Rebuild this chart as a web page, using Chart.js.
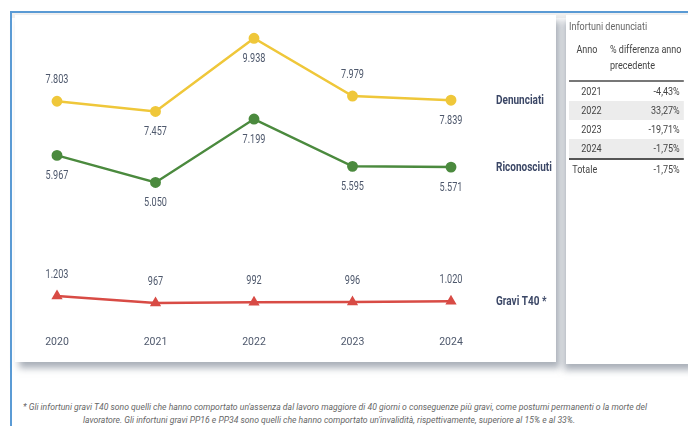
<!DOCTYPE html>
<html>
<head>
<meta charset="utf-8">
<script src="https://cdn.jsdelivr.net/npm/chart.js@4"></script>
<style>
  body { margin: 0; width: 688px; height: 426px; background: #fff; position: relative; overflow: hidden;
         font-family: 'Roboto', sans-serif; }
  #blueTop { position: absolute; left: 10px; top: 11px; width: 678px; height: 2px; background: #5b9bd5; }
  #blueLeft { position: absolute; left: 10px; top: 11px; width: 2px; height: 415px; background: #5b9bd5; }
  #band { position: absolute; left: 12px; top: 13px; width: 676px; height: 5px; background: #f1f1f1; }
  #card { position: absolute; left: 15px; top: 15px; width: 541px; height: 347px; background: #fff;
          box-shadow: 4px 6px 7px rgba(140,148,160,0.75); }
  #side { position: absolute; left: 566px; top: 15px; width: 130px; height: 349px; background: #fff;
          box-shadow: -2px 6px 7px rgba(140,148,160,0.75); color: #444; }
  #sideIn { position: absolute; left: 3px; top: 0; width: 140px; transform: scaleX(0.82); transform-origin: 0 0;
            font-size: 11px; }
  #chart { position: absolute; left: 15px; top: 15px; }
  .ttl { position: absolute; left: 0; top: 5px; color: #666; line-height: 14px; }
  table { position: absolute; left: 0; top: 27px; width: 140px; border-collapse: collapse; }
  th { font-weight: normal; text-align: left; vertical-align: top; padding: 0 0 6px 0; line-height: 16px; color: #444; }
  td { padding: 0; height: 19px; line-height: 19px; }
  td.y { text-align: left; padding-left: 15px; }
  td.v { text-align: right; padding-right: 5px; }
  tr.sh td { background: #ececec; }
  thead tr { border-bottom: 2px solid #777; }
  tr.last td { border-bottom: 2px solid #555; }
  #note { position: absolute; left: 12px; top: 401px; width: 646px; text-align: center; color: #666;
          font-style: italic; font-size: 8.65px; line-height: 13px; white-space: nowrap; }
</style>
</head>
<body>
<div id="band"></div>
<div id="blueTop"></div>
<div id="blueLeft"></div>
<div id="card"></div>
<canvas id="chart" width="541" height="347"></canvas>
<div id="side">
  <div id="sideIn">
    <div class="ttl">Infortuni denunciati</div>
    <table id="tab">
      <thead><tr><th style="padding-left:9px;width:41px">Anno</th><th>% differenza anno<br>precedente</th></tr></thead>
      <tbody id="tbody"></tbody>
    </table>
  </div>
</div>
<div id="note">* Gli infortuni gravi T40 sono quelli che hanno comportato un'assenza dal lavoro maggiore di 40 giorni o conseguenze più gravi, come postumi permanenti o la morte del<br><span style="margin-right:12px">lavoratore. Gli infortuni gravi PP16 e PP34 sono quelli che hanno comportato un'invalidità, rispettivamente, superiore al 15% e al 33%.</span></div>
<script>
const years = ['2020', '2021', '2022', '2023', '2024'];
const denunciati = [7803, 7457, 9938, 7979, 7839];
const riconosciuti = [5967, 5050, 7199, 5595, 5571];
const graviT40 = [1203, 967, 992, 996, 1020];
const seriesNames = ['Denunciati', 'Riconosciuti', 'Gravi T40 *'];

const tableYears = ['2021', '2022', '2023', '2024'];
const tablePct = ['-4,43%', '33,27%', '-19,71%', '-1,75%'];
const totalPct = '-1,75%';

// where each value label sits relative to its point
const labelSide = [
  ['top', 'bottom', 'bottom', 'top', 'bottom'],
  ['bottom', 'bottom', 'bottom', 'bottom', 'bottom'],
  ['top', 'top', 'top', 'top', 'top']
];

const FONT = "'Roboto', sans-serif";
const textColor = '#4e586c';

// table
const tbody = document.getElementById('tbody');
tableYears.forEach((y, i) => {
  const tr = document.createElement('tr');
  if (i % 2 === 1) tr.className = 'sh';
  if (i === tableYears.length - 1) tr.className += ' last';
  tr.innerHTML = `<td class="y">${y}</td><td class="v">${tablePct[i]}</td>`;
  tbody.appendChild(tr);
});
const trTot = document.createElement('tr');
trTot.innerHTML = `<td style="padding-left:4px">Totale</td><td class="v">${totalPct}</td>`;
tbody.appendChild(trTot);

function fmt(v) {
  return String(v).replace(/\B(?=(\d{3})+(?!\d))/g, '.');
}

function squeezed(ctx, text, x, y, sx) {
  ctx.save();
  ctx.translate(x, y);
  ctx.scale(sx, 1);
  ctx.fillText(text, 0, 0);
  ctx.restore();
}

const labelsPlugin = {
  id: 'labels',
  afterDatasetsDraw(chart) {
    const ctx = chart.ctx;
    ctx.save();
    ctx.textBaseline = 'middle';
    chart.data.datasets.forEach((ds, i) => {
      const meta = chart.getDatasetMeta(i);
      ctx.font = `12px ${FONT}`;
      ctx.fillStyle = textColor;
      ctx.textAlign = 'center';
      meta.data.forEach((pt, j) => {
        const dy = labelSide[i][j] === 'top' ? -21 : 21;
        squeezed(ctx, fmt(ds.data[j]), pt.x, pt.y + dy, 0.76);
      });
      const last = meta.data[meta.data.length - 1];
      ctx.font = `bold 12.5px ${FONT}`;
      ctx.fillStyle = '#3b4766';
      ctx.textAlign = 'left';
      squeezed(ctx, seriesNames[i], chart.chartArea.right + 45, last.y + 1, 0.8);
    });
    ctx.restore();
  }
};

new Chart(document.getElementById('chart'), {
  type: 'line',
  data: {
    labels: years,
    datasets: [
      { data: denunciati, borderColor: '#efc73a', backgroundColor: '#efc73a', borderWidth: 2.5,
        pointRadius: 4.2, pointStyle: 'circle', tension: 0 },
      { data: riconosciuti, borderColor: '#4b8a3e', backgroundColor: '#4b8a3e', borderWidth: 2.5,
        pointRadius: 4.2, pointStyle: 'circle', tension: 0 },
      { data: graviT40, borderColor: '#d84b45', backgroundColor: '#d84b45', borderWidth: 2.5,
        pointRadius: 4, pointStyle: 'triangle', tension: 0 }
    ]
  },
  options: {
    responsive: false,
    animation: false,
    layout: { padding: { left: 42, right: 105, top: 5, bottom: 8 } },
    plugins: { legend: { display: false }, tooltip: { enabled: false } },
    scales: {
      x: {
        grid: { display: false, drawTicks: false },
        border: { display: false },
        ticks: { color: textColor, font: { family: FONT, size: 10.5 }, padding: 5 }
      },
      y: {
        display: false,
        min: 0,
        max: 10500
      }
    }
  },
  plugins: [labelsPlugin]
});
</script>
</body>
</html>
